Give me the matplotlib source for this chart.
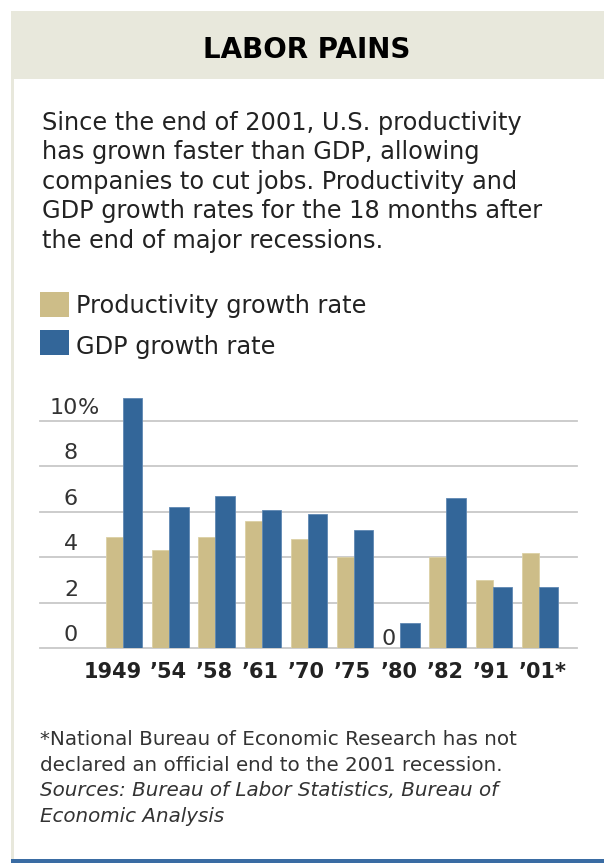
import numpy as np
import matplotlib
matplotlib.use("Agg")
import matplotlib.pyplot as plt
from matplotlib.patches import Rectangle
import matplotlib.transforms as mtransforms

# data (percent growth, 18 months after recession end)
years = ["1949", "\u201954", "\u201958", "\u201961", "\u201970",
         "\u201975", "\u201980", "\u201982", "\u201991", "\u201901*"]
productivity = [4.9, 4.3, 4.9, 5.6, 4.8, 4.0, 0.0, 4.0, 3.0, 4.2]
gdp = [11.0, 6.2, 6.7, 6.1, 5.9, 5.2, 1.1, 6.6, 2.7, 2.7]
ytick_vals = [0, 2, 4, 6, 8, 10]

TITLE = "LABOR PAINS"
INTRO = ["Since the end of 2001, U.S. productivity",
         "has grown faster than GDP, allowing",
         "companies to cut jobs. Productivity and",
         "GDP growth rates for the 18 months after",
         "the end of major recessions."]
LEGEND = ["Productivity growth rate", "GDP growth rate"]
NOTES = ["*National Bureau of Economic Research has not",
         "declared an official end to the 2001 recession."]
SOURCES = ["Sources: Bureau of Labor Statistics, Bureau of",
           "Economic Analysis"]

TAN = "#CDBD88"
BLUE = "#336699"
BEIGE = "#E8E8DC"
TEXT = "#222222"

W, H = 604, 863
plt.rcParams["font.family"] = ["DejaVu Sans"]


def fx(px):
  return px / W


def fy(py):
  # pixel measured from the top -> figure fraction
  return 1 - py / H


fig = plt.figure(figsize=(W / 100, H / 100), dpi=100)
fig.patch.set_facecolor("white")

# frame: header band, thin left rule, blue bottom rule
fig.add_artist(Rectangle((fx(11), fy(79)), fx(W - 11), 68 / H,
                         transform=fig.transFigure, color=BEIGE, lw=0))
fig.add_artist(Rectangle((fx(11), fy(859)), fx(2.5), 780 / H,
                         transform=fig.transFigure, color=BEIGE, lw=0))
fig.add_artist(Rectangle((fx(11), 0), fx(W - 11), 4 / H,
                         transform=fig.transFigure, color="#3A6CA3", lw=0))

fig.text(fx(307), fy(57.5), TITLE, ha="center", va="baseline",
         fontsize=20, fontweight="bold", color="black")

for i, line in enumerate(INTRO):
  fig.text(fx(42), fy(130 + 29.4 * i), line, ha="left", va="baseline",
           fontsize=17.3, color=TEXT)

# legend
for i, (lab, col) in enumerate(zip(LEGEND, [TAN, BLUE])):
  top = 292.5 + 37.5 * i
  fig.add_artist(Rectangle((fx(40), fy(top + 25)), fx(29), 25 / H,
                           transform=fig.transFigure, color=col, lw=0))
  fig.text(fx(76), fy(313.5 + 40 * i), lab, ha="left", va="baseline",
           fontsize=17.3, color=TEXT)

# chart area
px_per_unit = 22.75
ymax = 11.5
ax = fig.add_axes([fx(40), fy(648.3), fx(577 - 40), ymax * px_per_unit / H])
x = np.arange(len(years))
ax.bar(x, productivity, width=-0.368, align="edge", color=TAN,
       edgecolor="#DCD0A4", linewidth=0.6, zorder=3)
ax.bar(x, gdp, width=0.42, align="edge", color=BLUE,
       edgecolor="#5F88B3", linewidth=0.6, zorder=3)
ax.set_xlim(-1.797, 9.827)
ax.set_ylim(0, ymax)
ax.set_yticks(ytick_vals)
ax.set_xticks([])
ax.tick_params(left=False, labelleft=False)
ax.grid(axis="y", color="#C8C8C8", linewidth=1.3)
for gl in ax.get_ygridlines():
  gl.set_clip_on(False)
ax.set_axisbelow(True)
for s in ax.spines.values():
  s.set_visible(False)
ax.patch.set_alpha(0)

# y labels sit just above their grid line, right aligned
ytr = mtransforms.blended_transform_factory(fig.transFigure, ax.transData)
for v in ytick_vals:
  ax.text(fx(78), v + 0.3, str(v), transform=ytr, ha="right",
          va="baseline", fontsize=16, color="#333333")
ax.text(fx(78), ytick_vals[-1] + 0.3, "%", transform=ytr, ha="left",
        va="baseline", fontsize=16, color="#333333")

# zero-value bars get a "0" label
for i, v in enumerate(productivity):
  if v == 0:
    ax.text(i - 0.25, 0.15, "0", ha="center", va="baseline",
            fontsize=16, color="#333333")

for i, lab in enumerate(years):
  if i == 0:
    ax.text(i + 0.4, -1.31, lab, ha="right", va="baseline",
            fontsize=15, fontweight="bold", color=TEXT, clip_on=False)
  else:
    xi = i + 0.08 if lab.endswith("*") else i - 0.03
    ax.text(xi, -1.31, lab, ha="center", va="baseline",
            fontsize=15, fontweight="bold", color=TEXT, clip_on=False)

# footnotes
for i, line in enumerate(NOTES + SOURCES):
  style = "italic" if line in SOURCES else "normal"
  fig.text(fx(40), fy(745 + 25.5 * i), line, ha="left", va="baseline",
           fontsize=14.3, color="#333333", fontstyle=style)

fig.savefig("out.png", dpi=100)
